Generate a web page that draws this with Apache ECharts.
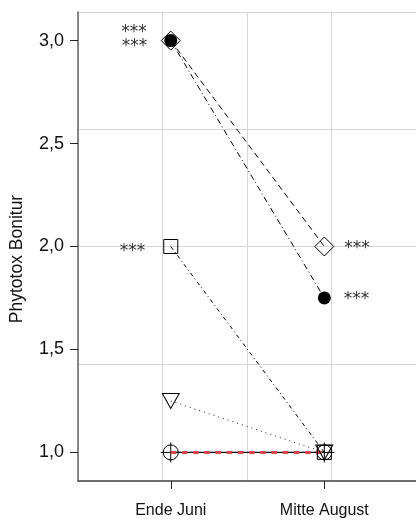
<!DOCTYPE html>
<html><head><meta charset="utf-8">
<script src="https://cdn.jsdelivr.net/npm/echarts@6/dist/echarts.min.js"></script>
<style>html,body{margin:0;padding:0;background:#fff}#c{width:416px;height:520px}</style>
</head><body><div id="c"></div>
<script>
// ---- data ----
const categories = ['Ende Juni', 'Mitte August'];
const yTicks = [1.0, 1.5, 2.0, 2.5, 3.0];
const diamondVals = [3.0, 2.0];
const dotVals = [3.0, 1.75];
const squareVals = [2.0, 1.0];
const triangleVals = [1.25, 1.0];
const crossVals = [1.0, 1.0];
const redVals = [1.0, 1.0];
const diamondSig = ['***', '***'];
const dotSig = ['***', '***'];
const squareSig = ['***', ''];
const noSig = ['', ''];

const xPos = categories.map((c, i) => i + 1);
const FONT = 'Liberation Sans';
const chart = echarts.init(document.getElementById('c'), null, { renderer: 'canvas' });

function mk(vals, sig, dist, dy) {
  return vals.map((v, i) => ({
    value: [xPos[i], v],
    label: sig[i] ? {
      show: true, formatter: sig[i], position: i === 0 ? 'left' : 'right',
      distance: dist[i], offset: [0, dy[i]],
      fontFamily: 'DejaVu Sans', fontSize: 17, color: '#333'
    } : { show: false }
  }));
}
const clear = 'rgba(0,0,0,0)';
const crossPath = 'path://M0,10L20,10M10,0L10,20M17.5,10A7.5,7.5,0,1,1,2.5,10A7.5,7.5,0,1,1,17.5,10';
const triPath = 'path://M0,0L20,0L10,18Z';

const option = {
  animation: false,
  backgroundColor: '#fff',
  grid: { left: 77, top: 12, right: 0, bottom: 39, containLabel: false },
  xAxis: [
    {
      type: 'value', min: 0.396, max: 2.597, position: 'bottom', z: 5,
      axisLine: { show: true, onZero: false, lineStyle: { color: '#666', width: 1.5 } },
      axisTick: { show: true, customValues: xPos, length: 8, lineStyle: { color: '#222', width: 1 } },
      axisLabel: { customValues: xPos, formatter: v => categories[Math.round(v) - 1], fontFamily: FONT, fontSize: 16, color: '#111', margin: 22 },
      splitLine: { show: false }
    },
    {
      type: 'value', min: 0, max: 4, interval: 1, position: 'top',
      axisLine: { show: true, lineStyle: { color: '#666', width: 1.5 } },
      axisTick: { show: false }, axisLabel: { show: false },
      splitLine: { show: true, lineStyle: { color: '#d6d6d6', width: 1 } }
    }
  ],
  yAxis: [
    {
      type: 'value', min: 0.861, max: 3.139, z: 5,
      axisLine: { show: true, onZero: false, lineStyle: { color: '#666', width: 1.5 } },
      axisTick: { show: true, customValues: yTicks, length: 8, lineStyle: { color: '#222', width: 1 } },
      axisLabel: { customValues: yTicks, formatter: v => v.toFixed(1).replace('.', ','), fontFamily: FONT, fontSize: 18, color: '#111', margin: 14 },
      splitLine: { show: false },
      name: 'Phytotox Bonitur', nameLocation: 'middle', nameGap: 52,
      nameTextStyle: { fontFamily: FONT, fontSize: 17.5, color: '#111', padding: [0, 25, 0, 0] }
    },
    {
      type: 'value', min: 0, max: 4, interval: 1, position: 'right',
      axisLine: { show: false }, axisTick: { show: false }, axisLabel: { show: false },
      splitLine: { show: true, lineStyle: { color: '#d6d6d6', width: 1 } }
    }
  ],
  series: [
    {
      type: 'line', data: mk(crossVals, noSig, [0, 0], [0, 0]),
      symbol: crossPath, symbolSize: 20,
      itemStyle: { color: clear, borderColor: '#000', borderWidth: 1 },
      lineStyle: { color: '#111', width: 1.3, type: 'solid' }, z: 2
    },
    {
      type: 'line', data: mk(redVals, noSig, [0, 0], [0, 0]),
      symbol: 'none',
      lineStyle: { color: '#d8474f', width: 3, type: [5.5, 5.7] }, z: 3
    },
    {
      type: 'line', data: mk(triangleVals, noSig, [0, 0], [0, 0]),
      symbol: triPath, symbolSize: [17, 15],
      itemStyle: { color: clear, borderColor: '#000', borderWidth: 1 },
      lineStyle: { color: '#222', width: 1, type: [1, 4] }, z: 4
    },
    {
      type: 'line', data: mk(squareVals, squareSig, [18, 18], [5, 0]),
      symbol: 'rect', symbolSize: 14,
      itemStyle: { color: clear, borderColor: '#000', borderWidth: 1 },
      lineStyle: { color: '#000', width: 1, type: [4, 3, 1, 3] }, z: 5
    },
    {
      type: 'line', data: mk(diamondVals, diamondSig, [14, 10], [-8, 2]),
      symbol: 'diamond', symbolSize: 19,
      itemStyle: { color: clear, borderColor: '#000', borderWidth: 1 },
      lineStyle: { color: '#000', width: 1, type: [6, 4] }, z: 6
    },
    {
      type: 'line', data: mk(dotVals, dotSig, [17, 13], [6, 2]),
      symbol: 'circle', symbolSize: 13,
      itemStyle: { color: '#000', borderColor: '#000', borderWidth: 0 },
      lineStyle: { color: '#000', width: 1, type: [6, 3, 1, 3] }, z: 7
    }
  ]
};
chart.setOption(option);
</script>
</body></html>
